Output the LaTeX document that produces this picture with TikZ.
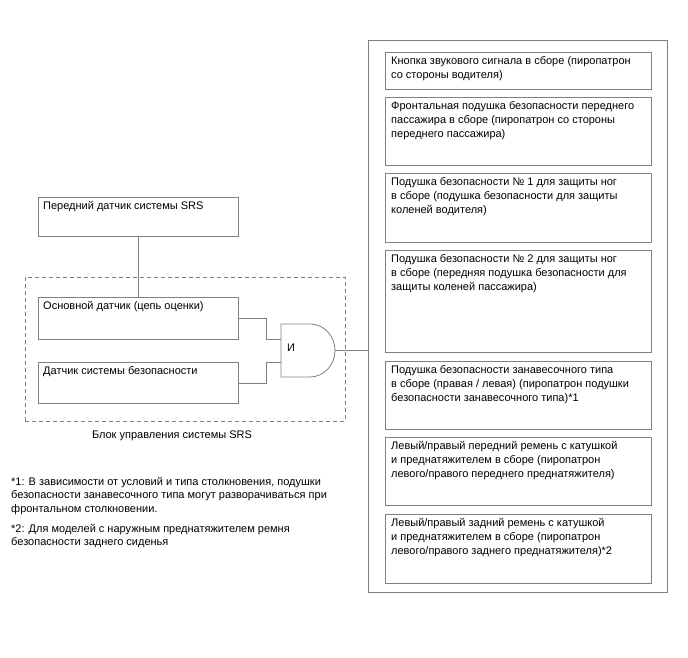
\documentclass[tikz,border=0pt]{standalone}
\usepackage{fontspec}
\setmainfont{Liberation Sans}
\usetikzlibrary{positioning}
\definecolor{linegray}{RGB}{128,128,128}

\begin{document}
\begin{tikzpicture}[x=1pt,y=-1pt,
  unit/.style={draw=linegray, line width=0.8pt, anchor=north west, inner sep=0pt, minimum width=266},
  sensor/.style={draw=linegray, line width=0.8pt, anchor=north west, inner sep=0pt, minimum width=200},
  txt/.style={inner sep=0pt, align=left, font=\fontsize{11}{14}\selectfont},
  wire/.style={draw=linegray, line width=0.8pt}]
  \useasboundingbox (0,0) rectangle (688,658);

  \node[sensor, minimum height=39] (front) at (38,197) {};
  \node[sensor, minimum height=42] (main) at (38,297) {};
  \node[sensor, minimum height=41] (safing) at (38,362) {};
  \node[txt, below right=4pt and 5pt of front.north west] (frontT) {Передний датчик системы SRS};
  \node[txt, below right=4pt and 5pt of main.north west] (mainT) {Основной датчик (цепь оценки)};
  \node[txt, below right=4pt and 5pt of safing.north west] (safingT) {Датчик системы безопасности};

  \node[draw=linegray, line width=0.8pt, dash pattern=on 4pt off 3pt, anchor=north west,
        inner sep=0pt, minimum width=320, minimum height=144] (ecu) at (25,277) {};
  \node[txt] (ecuT) at (172,436) {Блок управления системы SRS};

  \draw[wire] (281,324) -- (310,324) arc[start angle=-90, end angle=90, x radius=25, y radius=26.5]
    -- (281,377) -- cycle;
  \coordinate (in1) at (281,339);
  \coordinate (in2) at (281,362);
  \coordinate (out) at (335,350.5);
  \node[txt] (andT) at (291,348) {И};

  \draw[wire] (front.south) -- (main.north);
  \draw[wire] (main.east) -- ++(28,0) |- (in1);
  \draw[wire] (safing.east) -- ++(28,0) |- (in2);

  \node[draw=linegray, line width=0.8pt, anchor=north west, inner sep=0pt,
        minimum width=299, minimum height=552] (loads) at (368,40) {};
  \draw[wire] (out) -- (out -| loads.west);

  \node[unit, minimum height=37] (horn) at (385,52) {};
  \node[unit, minimum height=68] (pass) at (385,97) {};
  \node[unit, minimum height=69] (knee1) at (385,173) {};
  \node[unit, minimum height=102] (knee2) at (385,250) {};
  \node[unit, minimum height=68] (curtain) at (385,361) {};
  \node[unit, minimum height=68] (beltF) at (385,437) {};
  \node[unit, minimum height=69] (beltR) at (385,514) {};

  \node[txt, below right=4pt and 6pt of horn.north west] (hornT)
    {Кнопка звукового сигнала в сборе (пиропатрон\\со стороны водителя)};
  \node[txt, below right=4pt and 6pt of pass.north west] (passT)
    {Фронтальная подушка безопасности переднего\\пассажира в сборе (пиропатрон со стороны\\переднего пассажира)};
  \node[txt, below right=4pt and 6pt of knee1.north west] (knee1T)
    {Подушка безопасности № 1 для защиты ног\\в сборе (подушка безопасности для защиты\\коленей водителя)};
  \node[txt, below right=4pt and 6pt of knee2.north west] (knee2T)
    {Подушка безопасности № 2 для защиты ног\\в сборе (передняя подушка безопасности для\\защиты коленей пассажира)};
  \node[txt, below right=4pt and 6pt of curtain.north west] (curtainT)
    {Подушка безопасности занавесочного типа\\в сборе (правая / левая) (пиропатрон подушки\\безопасности занавесочного типа)*1};
  \node[txt, below right=4pt and 6pt of beltF.north west] (beltFT)
    {Левый/правый передний ремень с катушкой\\и преднатяжителем в сборе (пиропатрон\\левого/правого переднего преднатяжителя)};
  \node[txt, below right=4pt and 6pt of beltR.north west] (beltRT)
    {Левый/правый задний ремень с катушкой\\и преднатяжителем в сборе (пиропатрон\\левого/правого заднего преднатяжителя)*2};

  \node[txt, anchor=north west, font=\fontsize{11}{13.5}\selectfont] (note1) at (11,477)
    {*1: В зависимости от условий и типа столкновения, подушки\\безопасности занавесочного типа могут разворачиваться при\\фронтальном столкновении.};
  \node[txt, anchor=north west, font=\fontsize{11}{13.5}\selectfont] (note2) at (11,524)
    {*2: Для моделей с наружным преднатяжителем ремня\\безопасности заднего сиденья};
\end{tikzpicture}
\end{document}
